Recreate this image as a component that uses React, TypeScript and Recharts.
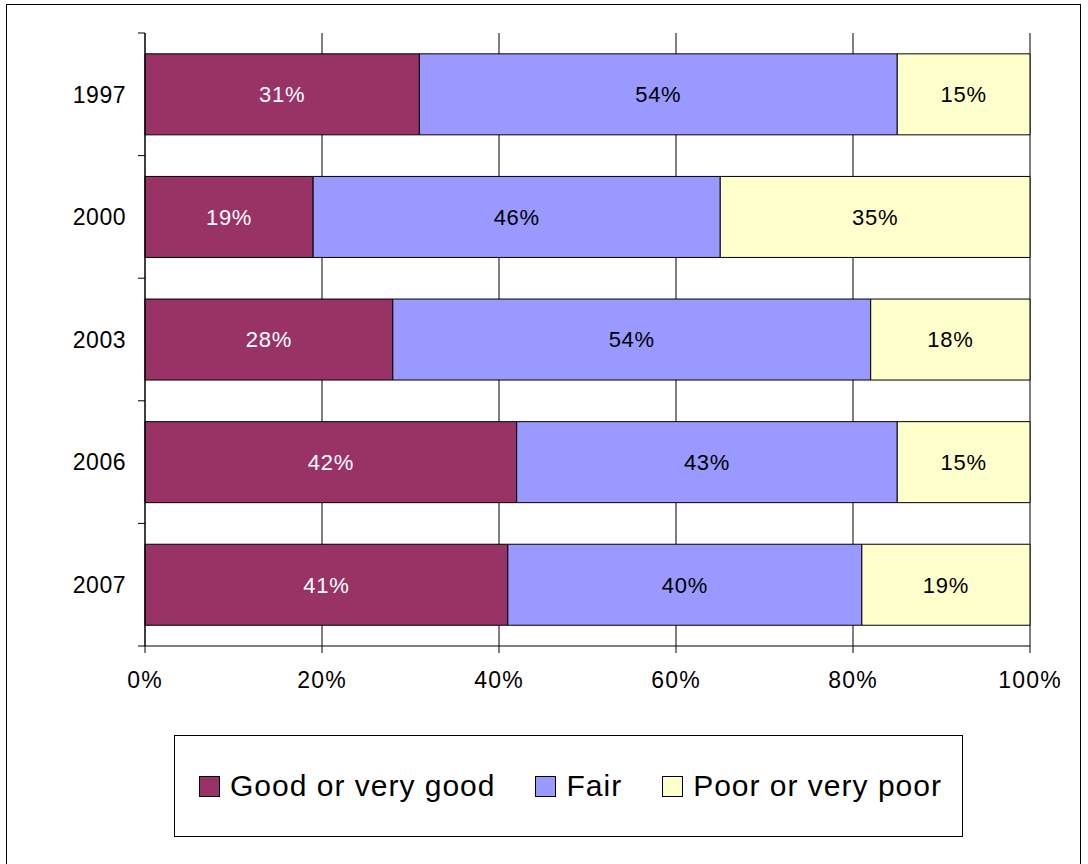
import React from 'react';
import { BarChart, Bar, XAxis, YAxis, CartesianGrid, Legend, LabelList } from 'recharts';

const years = ['1997', '2000', '2003', '2006', '2007'];
const good = [31, 19, 28, 42, 41];
const fair = [54, 46, 54, 43, 40];
const poor = [15, 35, 18, 15, 19];
const xTicks = [0, 20, 40, 60, 80, 100];
const seriesNames = ['Good or very good', 'Fair', 'Poor or very poor'];
const seriesColors = ['#993366', '#9999FF', '#FFFFCC'];

const data = years.map((y, i) => ({ year: y, good: good[i], fair: fair[i], poor: poor[i] }));

const FONT = '"Liberation Sans", Arial, sans-serif';
const W = 1088;
const H = 864;
const PLOT_TOP = 33;
const PLOT_BOTTOM = 646;
const Y_AXIS_W = 80;
const X_AXIS_H = 50;
const LEGEND_H = 102;
const margin = { top: PLOT_TOP, right: 58, bottom: H - PLOT_BOTTOM - X_AXIS_H - LEGEND_H, left: 65 };
const band = (PLOT_BOTTOM - PLOT_TOP) / years.length;

const YTick = (props: any) => {
  const { y, payload, index } = props;
  const axisX = margin.left + Y_AXIS_W;
  return (
    <g>
      <text x={axisX - 19} y={y} dy="0.36em" textAnchor="end" fontSize={23} letterSpacing={0.5} fontFamily={FONT} fill="#000">
        {payload.value}
      </text>
      <line x1={axisX - 7} x2={axisX} y1={y - band / 2} y2={y - band / 2} stroke="#000" />
      {index === years.length - 1 ? (
        <line x1={axisX - 7} x2={axisX} y1={y + band / 2} y2={y + band / 2} stroke="#000" />
      ) : null}
    </g>
  );
};

const LegendContent = () => (
  <div
    style={{
      width: '100%',
      height: LEGEND_H,
      boxSizing: 'border-box',
      border: '1px solid #000',
      display: 'flex',
      alignItems: 'center',
      paddingLeft: 24,
      fontFamily: FONT,
      whiteSpace: 'nowrap',
    }}
  >
    {seriesNames.map((n, i) => (
      <div key={n} style={{ display: 'flex', alignItems: 'center', marginRight: 40, flexShrink: 0 }}>
        <div
          style={{
            width: 19,
            height: 19,
            background: seriesColors[i],
            border: '1px solid #000',
            marginRight: 10,
            flexShrink: 0,
          }}
        />
        <span style={{ fontSize: 30, letterSpacing: 1, color: '#000', lineHeight: 1, whiteSpace: 'nowrap' }}>{n}</span>
      </div>
    ))}
  </div>
);

const labelFmt = (v: any) => `${v}%`;

export default function App() {
  return (
    <div style={{ position: 'absolute', left: 0, top: 0, width: W, height: H, background: '#fff', overflow: 'hidden' }}>
      <div
        style={{
          position: 'absolute',
          left: 6,
          top: 4,
          width: 1075,
          height: 880,
          border: '1px solid #000',
          boxSizing: 'border-box',
        }}
      />
      <div style={{ position: 'absolute', left: 0, top: 0 }}>
        <BarChart
          width={W}
          height={H}
          data={data}
          layout="vertical"
          margin={margin}
          barCategoryGap="17%"
        >
          <CartesianGrid horizontal={false} vertical={true} stroke="#000" />
          <XAxis
            type="number"
            domain={[0, 100]}
            ticks={xTicks}
            tickFormatter={(v: number) => `${v}%`}
            height={X_AXIS_H}
            tickSize={7}
            tickMargin={19}
            stroke="#000"
            tick={{ fontSize: 23, fontFamily: FONT, fill: '#000', letterSpacing: 1.2 }}
            interval={0}
          />
          <YAxis
            type="category"
            dataKey="year"
            width={Y_AXIS_W}
            tickLine={false}
            stroke="#000"
            tick={<YTick />}
            interval={0}
          />
          <Legend
            verticalAlign="bottom"
            content={<LegendContent />}
            wrapperStyle={{ position: 'absolute', left: 174, top: 735, width: 789, height: LEGEND_H, bottom: 'auto' }}
          />
          <Bar dataKey="good" name={seriesNames[0]} stackId="a" fill={seriesColors[0]} stroke="#000" strokeWidth={1} isAnimationActive={false}>
            <LabelList dataKey="good" position="center" formatter={labelFmt} fill="#fff" fontSize={22} letterSpacing={0.7} fontFamily={FONT} />
          </Bar>
          <Bar dataKey="fair" name={seriesNames[1]} stackId="a" fill={seriesColors[1]} stroke="#000" strokeWidth={1} isAnimationActive={false}>
            <LabelList dataKey="fair" position="center" formatter={labelFmt} fill="#000" fontSize={22} letterSpacing={0.7} fontFamily={FONT} />
          </Bar>
          <Bar dataKey="poor" name={seriesNames[2]} stackId="a" fill={seriesColors[2]} stroke="#000" strokeWidth={1} isAnimationActive={false}>
            <LabelList dataKey="poor" position="center" formatter={labelFmt} fill="#000" fontSize={22} letterSpacing={0.7} fontFamily={FONT} />
          </Bar>
        </BarChart>
      </div>
    </div>
  );
}
